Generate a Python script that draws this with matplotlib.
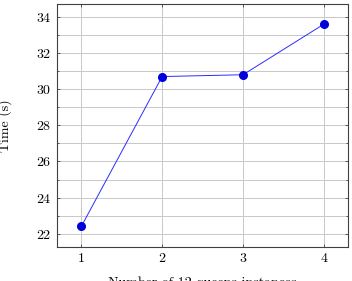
import matplotlib.pyplot as plt
from matplotlib.ticker import MultipleLocator

plt.rcParams['font.family'] = 'cmr10'
plt.rcParams['mathtext.fontset'] = 'cm'
plt.rcParams['axes.formatter.use_mathtext'] = True

instances = [1, 2, 3, 4]
times = [22.4, 30.7, 30.8, 33.6]

fig = plt.figure(figsize=(3.52, 2.81), dpi=100)
ax = fig.add_axes([0.162, 0.122, 0.827, 0.864])

ax.plot(instances, times, color='#2b2bff', lw=0.7, marker='o', markersize=5.5,
        markerfacecolor='#0000dd', markeredgecolor='#0000dd', zorder=3)

ax.set_xlim(0.7, 4.3)
ax.set_ylim(21.28, 34.72)
ax.set_xticks(instances)
ax.yaxis.set_major_locator(MultipleLocator(2))
ax.yaxis.set_minor_locator(MultipleLocator(1))

ax.grid(which='major', color='#c8c8c8', lw=0.7)
ax.grid(which='minor', axis='y', color='#c8c8c8', lw=0.7)
ax.set_axisbelow(True)

ax.tick_params(which='both', direction='in', top=True, right=True,
               color='#404040', width=0.6, labelsize=10, pad=4)
ax.tick_params(which='major', length=2.5)
ax.tick_params(which='minor', length=1.5)
ax.tick_params(axis='x', which='minor', bottom=False, top=False)
for s in ax.spines.values():
    s.set_color('#404040')
    s.set_linewidth(0.8)

ax.set_xlabel('Number of 12-queens instances', fontsize=10, labelpad=8)
ax.set_ylabel('Time (s)', fontsize=10, labelpad=17)

fig.savefig('out.png', dpi=100)
